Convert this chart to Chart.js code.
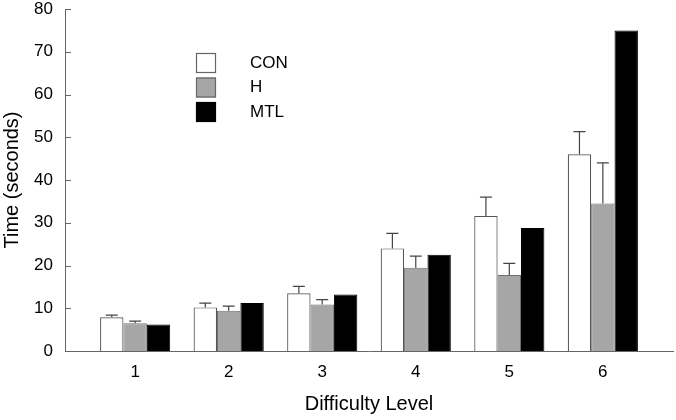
<!DOCTYPE html>
<html>
<head>
<meta charset="utf-8">
<script src="https://cdn.jsdelivr.net/npm/chart.js@4"></script>
<style>
  html, body { margin: 0; padding: 0; background: #fff; }
  #wrap { width: 676px; height: 420px; }
</style>
</head>
<body>
<div id="wrap"><canvas id="c" width="676" height="420"></canvas></div>
<script>
const levels = [1, 2, 3, 4, 5, 6];
const seriesNames = ['CON', 'H', 'MTL'];
const conMeans = [7.9, 10.2, 13.5, 24.0, 31.6, 46.0];
const conErrors = [0.5, 1.0, 1.6, 3.5, 4.4, 5.3];
const hMeans = [6.5, 9.4, 10.9, 19.5, 17.8, 34.5];
const hErrors = [0.5, 1.1, 1.1, 2.7, 2.7, 9.5];
const mtlMeans = [6.2, 11.2, 13.2, 22.5, 28.8, 75.0];
const mtlErrors = [0, 0, 0, 0, 0, 0];
const yTicks = [0, 10, 20, 30, 40, 50, 60, 70, 80];

const FONT = 'Liberation Sans, Arial, Helvetica, sans-serif';

function toPoints(vals) { return levels.map((l, i) => ({ x: l, y: vals[i] })); }

const datasets = [
  { label: seriesNames[0], data: toPoints(conMeans), errors: conErrors,
    backgroundColor: '#ffffff', borderColor: '#555555', borderWidth: 1.2 },
  { label: seriesNames[1], data: toPoints(hMeans), errors: hErrors,
    backgroundColor: '#a6a6a6', borderColor: '#6e6e6e', borderWidth: 1 },
  { label: seriesNames[2], data: toPoints(mtlMeans), errors: mtlErrors,
    backgroundColor: '#000000', borderColor: '#000000', borderWidth: 1 }
];

const errorBarPlugin = {
  id: 'errorBars',
  afterDatasetsDraw(chart) {
    const ctx = chart.ctx;
    const y = chart.scales.y;
    ctx.save();
    ctx.strokeStyle = '#444444';
    ctx.lineWidth = 1.2;
    chart.data.datasets.forEach((ds, di) => {
      const meta = chart.getDatasetMeta(di);
      meta.data.forEach((bar, i) => {
        const e = ds.errors[i];
        if (!e) return;
        const top = y.getPixelForValue(ds.data[i].y + e);
        const base = bar.y;
        const cx = bar.x;
        ctx.beginPath();
        ctx.moveTo(cx, base);
        ctx.lineTo(cx, top);
        ctx.moveTo(cx - 6, top);
        ctx.lineTo(cx + 6, top);
        ctx.stroke();
      });
    });
    ctx.restore();
  }
};

const innerTicksPlugin = {
  id: 'innerTicks',
  afterDraw(chart) {
    const ctx = chart.ctx;
    const y = chart.scales.y;
    const left = chart.chartArea.left;
    ctx.save();
    ctx.strokeStyle = '#666666';
    ctx.lineWidth = 1;
    y.ticks.forEach((t, i) => {
      const py = Math.round(y.getPixelForTick(i)) + 0.5;
      ctx.beginPath();
      ctx.moveTo(left, py);
      ctx.lineTo(left + 6, py);
      ctx.stroke();
    });
    ctx.restore();
  }
};

const legendPlugin = {
  id: 'boxLegend',
  afterDraw(chart) {
    const ctx = chart.ctx;
    ctx.save();
    ctx.font = '17px ' + FONT;
    ctx.textBaseline = 'middle';
    chart.data.datasets.forEach((ds, i) => {
      const bx = 196, by = 53 + i * 24.5;
      ctx.fillStyle = ds.backgroundColor;
      ctx.fillRect(bx, by, 20, 20);
      ctx.strokeStyle = i === 2 ? '#000000' : '#666666';
      ctx.lineWidth = 1.2;
      ctx.strokeRect(bx + 0.5, by + 0.5, 19, 19);
      ctx.fillStyle = '#000000';
      ctx.fillText(ds.label, 250, by + 10);
    });
    ctx.restore();
  }
};

new Chart(document.getElementById('c'), {
  type: 'bar',
  data: { datasets },
  options: {
    responsive: false,
    animation: false,
    devicePixelRatio: 1,
    layout: { padding: { top: 9, right: 3, left: 0, bottom: 0 } },
    datasets: { bar: { categoryPercentage: 0.75, barPercentage: 1.0, grouped: true } },
    plugins: { legend: { display: false }, tooltip: { enabled: false } },
    scales: {
      x: {
        type: 'linear',
        offset: false,
        min: 0.25, max: 6.75,
        afterFit(s) { s.height = 69; s.paddingLeft = 0; s.paddingRight = 0; },
        grid: { display: false, drawTicks: false, offset: false },
        border: { display: true, color: '#666666', width: 1 },
        ticks: {
          stepSize: 1, includeBounds: false, padding: 11,
          color: '#000000', font: { size: 17, family: FONT },
          callback: (v) => (levels.includes(v) ? String(v) : '')
        },
        title: { display: true, text: 'Difficulty Level', color: '#000000',
          font: { size: 20, family: FONT }, padding: { top: 0, bottom: 4 } }
      },
      y: {
        min: 0, max: 80,
        afterFit(s) { s.width = 65; s.paddingTop = 0; s.paddingBottom = 0; },
        afterBuildTicks(s) { s.ticks = yTicks.map(v => ({ value: v })); },
        grid: { display: false, drawTicks: false },
        border: { display: true, color: '#666666', width: 1 },
        ticks: { padding: 12, color: '#000000', font: { size: 17, family: FONT } },
        title: { display: true, text: 'Time (seconds)', color: '#000000',
          font: { size: 20, family: FONT }, padding: { top: 0, bottom: 0 } }
      }
    }
  },
  plugins: [errorBarPlugin, innerTicksPlugin, legendPlugin]
});
</script>
</body>
</html>
